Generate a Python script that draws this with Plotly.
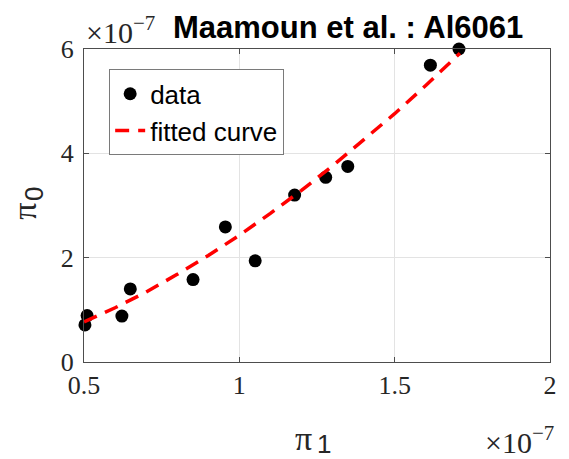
import plotly.graph_objects as go

# values shown in units of 1e-7 (axis exponent label x10^-7)
pi1_data = [0.503, 0.51, 0.622, 0.649, 0.851, 0.955, 1.051, 1.178, 1.278, 1.349, 1.615, 1.707]
pi0_data = [0.71, 0.89, 0.88, 1.40, 1.58, 2.59, 1.94, 3.20, 3.54, 3.75, 5.69, 6.0]

pi1_fit = [0.5, 0.6, 0.7, 0.8, 0.9, 1.0, 1.1, 1.2, 1.3, 1.4, 1.5, 1.6, 1.71]
pi0_fit = [0.77, 1.04, 1.34, 1.68, 2.04, 2.43, 2.85, 3.29, 3.76, 4.25, 4.76, 5.30, 5.92]

x_ticks = [0.5, 1, 1.5, 2]
x_tick_labels = ["0.5", "1", "1.5", "2"]
y_ticks = [0, 2, 4, 6]
y_tick_labels = ["0", "2", "4", "6"]

title_text = "Maamoun et al. : Al6061"

serif = "Liberation Serif"
sans = "Liberation Sans"
tick_color = "#262626"

fig = go.Figure()
fig.add_trace(go.Scatter(
    x=pi1_data, y=pi0_data, mode="markers", name="data",
    marker=dict(color="black", size=13),
    cliponaxis=False,
))
fig.add_trace(go.Scatter(
    x=pi1_fit, y=pi0_fit, mode="lines", name="fitted curve",
    line=dict(color="#ff0000", width=3.5, dash="14px,9px"),
))

axis_common = dict(
    showline=True, linecolor="#4d4d4d", linewidth=1, mirror="ticks",
    ticks="inside", ticklen=5, tickcolor="#4d4d4d",
    showgrid=True, gridcolor="#e3e3e3", gridwidth=1,
    zeroline=False,
    tickfont=dict(family=serif, size=26, color=tick_color),
)

fig.update_layout(
    width=569, height=459,
    margin=dict(l=84, r=14, t=49, b=97),
    paper_bgcolor="white", plot_bgcolor="white",
    showlegend=True,
    legend=dict(
        x=0.054, y=0.935, xanchor="left", yanchor="top",
        bordercolor="#7a7a7a", borderwidth=1, bgcolor="white",
        font=dict(family=sans, size=26, color="black"),
        tracegroupgap=0, itemwidth=30,
    ),
    xaxis=dict(range=[0.5, 2], tickvals=x_ticks, ticktext=x_tick_labels, **axis_common),
    yaxis=dict(range=[0, 6], tickvals=y_ticks, ticktext=y_tick_labels,
               ticklabelstandoff=4, **axis_common),
)

annots = [
    # title
    dict(text="<b>" + title_text + "</b>", x=0.566, y=1.07, xref="paper", yref="paper",
         xanchor="center", yanchor="middle", showarrow=False,
         font=dict(family=sans, size=31, color="black")),
    # y exponent
    dict(text="×10<sup>−7</sup>", x=0.0, y=0.995, xref="paper", yref="paper",
         xanchor="left", yanchor="bottom", showarrow=False,
         font=dict(family=serif, size=30, color=tick_color)),
    # x exponent
    dict(text="×10<sup>−7</sup>", x=1.012, y=-0.25, xref="paper", yref="paper",
         xanchor="right", yanchor="middle", showarrow=False,
         font=dict(family=serif, size=30, color=tick_color)),
    # x label pi_1
    dict(text="π", x=0.471, y=-0.245, xref="paper", yref="paper",
         xanchor="center", yanchor="middle", showarrow=False,
         font=dict(family=serif, size=34, color=tick_color)),
    dict(text="1", x=0.516, y=-0.263, xref="paper", yref="paper",
         xanchor="center", yanchor="middle", showarrow=False,
         font=dict(family=sans, size=26, color=tick_color)),
    # y label pi_0
    dict(text="π", x=-0.1295, y=0.482, xref="paper", yref="paper",
         xanchor="center", yanchor="middle", showarrow=False, textangle=-90,
         font=dict(family=serif, size=34, color=tick_color)),
    dict(text="0", x=-0.107, y=0.537, xref="paper", yref="paper",
         xanchor="center", yanchor="middle", showarrow=False, textangle=-90,
         font=dict(family=sans, size=26, color=tick_color)),
]
fig.update_layout(annotations=annots)

fig.write_html("out.html")
